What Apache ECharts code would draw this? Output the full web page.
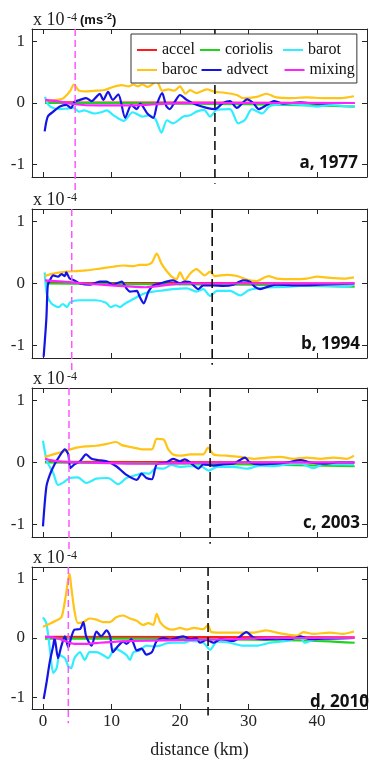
<!DOCTYPE html>
<html><head><meta charset="utf-8">
<script src="https://cdn.jsdelivr.net/npm/echarts@6/dist/echarts.min.js"></script>
<style>html,body{margin:0;padding:0;background:#fff}#c{width:369px;height:760px}</style>
</head><body><div id="c"></div>
<script>
// ---------- DATA (values in units of 1e-4 m s^-2, distance in km) ----------
const seriesNames = ['accel','coriolis','barot','baroc','advect','mixing'];
const panelLabels = ['a, 1977','b, 1994','c, 2003','d, 2010'];
const xTicks = [0,10,20,30,40];
const yTicks = [-1,0,1];
const mixingFront = [4.7,4.2,3.8,3.7];      // magenta dashed line position (km)
const boundaryLine = [25.1,24.7,24.4,24.1]; // black dashed line position (km)

// panel a, 1977
const accelA = [[0.3,0.02],[5,0.01],[45.5,0]];
const coriolisA = [[0.3,0],[10,0],[20,-0.01],[30,-0.02],[40,-0.04],[45.5,-0.06]];
const barotA = [[0.3,0.1],[0.8,-0.03],[1.5,-0.08],[2.5,-0.1],[3.5,-0.09],[4.4,-0.08],[5.3,-0.14],[6,-0.12],[7.5,-0.17],[8.5,-0.15],[9.3,-0.12],[10.3,-0.2],[11.8,-0.29],[13.1,-0.15],[14.5,-0.22],[15.4,-0.2],[16.4,-0.26],[17.3,-0.48],[18.1,-0.28],[19,-0.33],[20.5,-0.22],[21.5,-0.2],[22.4,-0.14],[23.5,-0.11],[24.4,-0.22],[25.4,-0.11],[27.3,-0.1],[28.5,-0.33],[29.5,-0.27],[30.5,-0.1],[32,-0.17],[33.1,-0.05],[36.1,-0.02],[38.5,-0.04],[40,-0.06],[41.9,-0.03],[44,-0.05],[45.5,-0.05]];
const barocA = [[0.3,0.05],[1,0.04],[2,0.05],[3,0.08],[4,0.2],[4.5,0.3],[5.3,0.2],[6.5,0.19],[7.8,0.2],[9,0.21],[10.2,0.26],[11.5,0.29],[12.5,0.27],[13.2,0.3],[13.8,0.27],[14.5,0.3],[15.3,0.26],[16.6,0.35],[17.4,0.2],[18.3,0.22],[19.2,0.2],[20,0.27],[20.8,0.15],[21.5,0.21],[22.4,0.16],[23.9,0.22],[25.1,0.18],[26.3,0.17],[28.3,0.13],[29.2,0.08],[31.2,0.1],[32.6,0.15],[34.1,0.09],[36.1,0.08],[38.5,0.09],[41,0.08],[43.5,0.08],[45.4,0.11]];
const advectA = [[0.25,-0.46],[0.7,-0.22],[1.5,-0.14],[2.4,-0.06],[3.4,-0.03],[4.1,-0.08],[4.6,0.02],[5.4,0.05],[6.3,0.08],[7.1,0.03],[7.8,0.1],[8.3,0.15],[8.8,0.05],[9.5,0.18],[10.2,0.05],[11,0.14],[12,-0.24],[12.9,-0.03],[13.7,-0.1],[14.2,-0.01],[15.3,-0.18],[16.1,-0.24],[16.7,0],[17.4,0.16],[18,-0.05],[18.5,-0.1],[19.3,0.03],[20,0.13],[21,0.05],[22.4,-0.03],[23.9,-0.08],[25.1,-0.1],[26.3,0],[27.3,0.03],[28.3,-0.08],[29.8,0.06],[30.7,0],[31.5,-0.1],[32.7,-0.03],[33.7,0.03],[35.1,-0.01],[37.6,0.01],[40,-0.01],[42.4,0],[45.4,0]];
const mixingA = [[0.3,0.05],[2,0.03],[4.6,-0.02],[8,-0.04],[12,-0.04],[15,-0.03],[18,-0.01],[22,0],[45.5,0]];

// panel b, 1994
const accelB = [[0.3,0.02],[5,0.01],[45.5,0]];
const coriolisB = [[0.3,0],[15,-0.01],[30,-0.02],[45.5,-0.05]];
const barotB = [[0.25,0.18],[0.6,-0.19],[1.3,-0.33],[2.3,-0.38],[2.9,-0.33],[3.5,-0.38],[4,-0.3],[5.3,-0.27],[7.7,-0.27],[9.2,-0.31],[9.9,-0.38],[10.6,-0.35],[11.2,-0.38],[11.9,-0.33],[13.2,-0.25],[14.2,-0.19],[15.1,-0.15],[16.1,-0.13],[17.6,-0.11],[19,-0.09],[21,-0.08],[22.4,-0.13],[23.4,-0.09],[24.4,-0.2],[25.4,-0.12],[27.3,-0.12],[28.8,-0.19],[30,-0.11],[31.2,-0.08],[33.6,-0.06],[36,-0.05],[39,-0.03],[42,-0.04],[44.4,-0.05],[45.4,-0.02]];
const barocB = [[0.25,0.12],[1.5,0.16],[3.4,0.19],[4.9,0.2],[6.3,0.21],[8.3,0.24],[10.2,0.27],[11.7,0.29],[13.2,0.28],[14.1,0.3],[15.1,0.3],[15.9,0.34],[16.6,0.48],[17.3,0.32],[18,0.21],[18.8,0.11],[19.5,0.07],[20,0.18],[20.7,0.05],[21.5,0.16],[22.4,0.23],[23.6,0.13],[24.4,0.19],[25.1,0.12],[26.8,0.14],[28.3,0.12],[30.2,0.05],[31.2,0.04],[32.9,0.12],[34.1,0.08],[36.6,0.07],[38.5,0.08],[40,0.11],[41.9,0.09],[43.9,0.08],[45.4,0.1]];
const advectB = [[0.1,-1.18],[0.5,-0.56],[0.7,-0.03],[1,0.05],[1.5,0.13],[2.2,0.11],[2.7,0.15],[3.2,0.12],[3.4,0.18],[3.9,0.08],[4.6,0.05],[5.4,0],[6.8,-0.02],[8.3,0.03],[9.3,0.03],[10.2,-0.02],[11.5,0.03],[12.2,-0.08],[12.7,-0.13],[13.7,-0.12],[14.1,-0.21],[14.7,-0.32],[15.4,-0.13],[16.1,-0.03],[17.1,0],[18,0.03],[19,0.05],[20,0],[20.7,0.03],[21.5,0.02],[22.7,-0.09],[23.4,-0.03],[24.9,-0.03],[26.3,-0.04],[27.8,-0.02],[29.2,0.05],[30.2,0.03],[31,-0.06],[31.7,-0.09],[32.9,-0.05],[34.1,-0.02],[37.6,-0.03],[40.5,-0.02],[45.4,0]];
const mixingB = [[0.3,0.05],[3,0.03],[6,0],[10,-0.03],[15,-0.06],[17,-0.04],[19,-0.01],[21,0],[45.5,0]];

// panel c, 2003
const accelC = [[0.3,0.01],[45.5,0]];
const coriolisC = [[0.3,0],[15,-0.01],[30,-0.03],[45.5,-0.06]];
const barotC = [[0,0.35],[0.6,0.02],[1.5,-0.17],[2.2,-0.36],[3,-0.32],[3.9,-0.25],[5.1,-0.24],[6.3,-0.33],[7.8,-0.26],[9.5,-0.25],[11,-0.35],[12.2,-0.25],[13.7,-0.2],[14.6,-0.17],[15.5,-0.18],[16.5,-0.09],[17.6,-0.1],[18.7,-0.04],[20,-0.07],[21.2,-0.06],[23,-0.06],[24.2,-0.13],[25.4,-0.07],[27.8,-0.07],[29.8,-0.1],[31.7,-0.05],[33.7,-0.06],[35.6,-0.03],[37.6,-0.02],[39.5,-0.09],[41,-0.02],[42.9,-0.03],[45.4,-0.03]];
const barocC = [[0.25,0.09],[1.5,0.13],[3.4,0.19],[4.9,0.24],[6.3,0.26],[7.8,0.27],[9.3,0.3],[10.7,0.33],[11.5,0.28],[13.2,0.24],[14.6,0.21],[15.9,0.21],[16.6,0.38],[17.6,0.37],[18.3,0.21],[19,0.13],[20,0.11],[21.5,0.13],[23.4,0.13],[24.1,0.24],[24.9,0.13],[26.8,0.11],[28.8,0.09],[30.7,0.06],[32.7,0.08],[34.6,0.09],[36.6,0.06],[38.5,0.08],[40.5,0.06],[42.4,0.08],[44.4,0.06],[45.4,0.11]];
const advectC = [[0,-1.03],[0.5,-0.39],[1,-0.2],[1.7,-0.03],[2.4,0.1],[3.2,0.21],[3.7,0.13],[4,-0.09],[4.6,-0.03],[5.4,0.02],[6.3,0.13],[7.1,0.06],[8,0.04],[9.3,0.02],[10.7,-0.06],[12.2,-0.2],[13.7,-0.28],[14.4,-0.18],[15.1,-0.25],[15.9,-0.27],[16.6,-0.03],[18,0],[19,0.06],[20,0.02],[20.7,0.05],[21.7,-0.02],[22.7,-0.1],[23.4,-0.03],[24.9,-0.05],[26.3,-0.03],[27.8,-0.02],[29.5,0.08],[30.2,0],[31.7,-0.03],[33.7,-0.02],[35.6,0],[37.6,0.04],[39,0],[41,-0.02],[42.9,0],[45.4,0]];
const mixingC = [[0.3,0.06],[1.5,0.03],[3,0.01],[6,0],[10,-0.01],[15,-0.02],[20,-0.01],[25,0],[45.5,0]];

// panel d, 2010
const accelD = [[0.3,0.02],[45.5,0.01]];
const coriolisD = [[0.3,-0.01],[15,-0.01],[30,-0.03],[38,-0.04],[45.5,-0.08]];
const barotD = [[0,0.35],[0.5,0.25],[1,-0.18],[1.5,-0.59],[2,-0.51],[2.4,-0.29],[3.2,-0.34],[3.7,-0.48],[4.1,-0.51],[4.6,-0.34],[5.4,-0.24],[6.1,-0.37],[6.8,-0.24],[7.8,-0.24],[8.8,-0.29],[9.5,-0.34],[10.5,-0.18],[11.2,-0.21],[12.2,-0.29],[12.7,-0.37],[13.2,-0.24],[14.1,-0.21],[15.1,-0.13],[16.1,-0.14],[17.1,-0.13],[18,-0.09],[19,-0.08],[20.5,-0.08],[21.5,-0.05],[23.4,-0.08],[24.4,-0.2],[25.4,-0.06],[27.3,-0.08],[29.2,-0.13],[31.2,-0.13],[33.1,-0.08],[36,-0.04],[37.5,0.03],[38.2,-0.08],[39.5,-0.03],[41,-0.02],[42.9,-0.01],[45.4,0]];
const barocD = [[0,0.19],[1,0.24],[2,0.3],[2.7,0.35],[3.2,0.62],[3.7,1.0],[3.9,1.08],[4.1,0.89],[4.6,0.46],[5.1,0.25],[5.9,0.27],[6.8,0.33],[7.8,0.31],[8.8,0.27],[9.8,0.27],[10.7,0.35],[11.7,0.38],[12.7,0.33],[13.7,0.29],[14.6,0.22],[15.4,0.25],[16.1,0.22],[16.6,0.41],[17.1,0.27],[18,0.17],[19,0.14],[20,0.17],[21,0.14],[22,0.17],[23.4,0.15],[24.1,0.22],[24.6,0.1],[26.8,0.09],[28.8,0.09],[30.7,0.09],[32.6,0.13],[34.1,0.09],[35.6,0.06],[37.1,0.04],[38,0.1],[39.5,0.07],[41.9,0.09],[43.8,0.07],[45.4,0.11]];
const advectD = [[0.1,-1.03],[0.5,-0.77],[1,-0.4],[1.5,-0.13],[1.7,0],[2.2,-0.34],[2.7,-0.13],[3.2,0.03],[3.7,-0.16],[4.1,0],[4.6,0.14],[5.4,0.15],[5.9,0.27],[6.3,0.03],[7.1,-0.13],[7.8,0.11],[8.5,0.03],[9.3,0.13],[9.8,0.03],[10.2,-0.24],[11,-0.13],[11.7,-0.06],[12.2,-0.1],[12.9,-0.02],[13.7,-0.21],[14.4,-0.18],[15.1,-0.28],[15.9,-0.24],[16.6,-0.05],[17.6,0],[18.5,-0.03],[19.5,0],[20.5,0.03],[21.5,-0.02],[22.4,0],[22.9,-0.08],[23.9,-0.03],[24.9,-0.08],[25.9,-0.02],[27.8,-0.05],[29.7,0.1],[30.7,0.01],[32.2,-0.02],[34.1,-0.01],[36.1,-0.02],[37.6,0.03],[39,-0.02],[41,-0.01],[45.4,0]];
const mixingD = [[0.3,0.02],[2,0],[3.2,-0.05],[4.6,-0.1],[6.3,-0.1],[8.3,-0.08],[10.7,-0.06],[13.2,-0.05],[18,-0.04],[22.9,-0.03],[27.8,-0.02],[32.7,0],[45.5,0]];

const panelData = [
  {accel:accelA, coriolis:coriolisA, barot:barotA, baroc:barocA, advect:advectA, mixing:mixingA},
  {accel:accelB, coriolis:coriolisB, barot:barotB, baroc:barocB, advect:advectB, mixing:mixingB},
  {accel:accelC, coriolis:coriolisC, barot:barotC, baroc:barocC, advect:advectC, mixing:mixingC},
  {accel:accelD, coriolis:coriolisD, barot:barotD, baroc:barocD, advect:advectD, mixing:mixingD}
];

// ---------- STYLE / LAYOUT ----------
const colors = {accel:'#ff1a1a', coriolis:'#1ed21e', barot:'#30eeff', baroc:'#ffc414', advect:'#1414e6', mixing:'#ff22ff'};
const gridTops = [29,209,388,567];
const gridH = [148,149,149,149];
const labelRight = [358,360,360,369];
const serif = '"Liberation Serif", "Times New Roman", serif';
const axisColor = '#262626';

const option = {
  animation:false, backgroundColor:'#fff',
  grid:[], xAxis:[], yAxis:[], series:[], graphic:[],
  legend:{
    show:true, left:131, top:34, width:232, orient:'horizontal',
    backgroundColor:'#fff', borderColor:'#333', borderWidth:1, borderRadius:0,
    padding:[8,2,5,6], itemGap:4, itemWidth:20, itemHeight:2, icon:'rect',
    textStyle:{fontFamily:serif, fontSize:16, color:'#111', lineHeight:14},
    data: seriesNames.map((n,i)=>({name:n, textStyle:{width:[34,54,42][i%3]}})),
    z:20
  }
};

panelData.forEach((pd,i)=>{
  option.grid.push({left:32, width:335, top:gridTops[i], height:gridH[i]});
  const common = {gridIndex:i, type:'value', min:-1.6, max:47.3, splitLine:{show:false},
    axisLine:{show:true, onZero:false, lineStyle:{color:axisColor, width:1}},
    axisTick:{show:true, inside:true, length:5, customValues:xTicks, lineStyle:{color:axisColor}}};
  option.xAxis.push(Object.assign({}, common, {position:'bottom',
    axisLabel:{show:i===3, customValues:xTicks, margin:4, fontFamily:serif, fontSize:17, color:'#222'},
    name: i===3 ? 'distance (km)' : '', nameLocation:'middle', nameGap:32,
    nameTextStyle:{fontFamily:serif, fontSize:18, color:'#222'}}));
  option.xAxis.push(Object.assign({}, common, {position:'top', axisLabel:{show:false}}));
  const ycommon = {gridIndex:i, type:'value', min:-1.2, max:1.2, splitLine:{show:false},
    axisLine:{show:true, onZero:false, lineStyle:{color:axisColor, width:1}},
    axisTick:{show:true, inside:true, length:5, customValues:yTicks, lineStyle:{color:axisColor}}};
  option.yAxis.push(Object.assign({}, ycommon, {position:'left',
    axisLabel:{show:true, customValues:yTicks, margin:7, fontFamily:serif, fontSize:17, color:'#222'}}));
  option.yAxis.push(Object.assign({}, ycommon, {position:'right', axisLabel:{show:false}}));

  seriesNames.forEach((n,k)=>{
    option.series.push({type:'line', name:n, xAxisIndex:2*i, yAxisIndex:2*i, data:pd[n],
      symbol:'none', smooth:0.25, lineStyle:{color:colors[n], width:2.2}, itemStyle:{color:colors[n]},
      z:2+k*0.1, silent:true});
  });
  option.series.push({type:'line', name:'front'+i, xAxisIndex:2*i, yAxisIndex:2*i, clip:false,
    data:[[mixingFront[i],1.2],[mixingFront[i],-1.44]], symbol:'none', silent:true,
    lineStyle:{color:'#ff55ff', width:1.5, type:[7,4]}, z:3});
  option.series.push({type:'line', name:'bound'+i, xAxisIndex:2*i, yAxisIndex:2*i, clip:false,
    data:[[boundaryLine[i],1.2],[boundaryLine[i],-1.31]], symbol:'none', silent:true,
    lineStyle:{color:'#111', width:1.6, type:[9,5]}, z:3});

  option.graphic.push({type:'text', x:33, y:gridTops[i], z:30,
    style:{text:'x 10', font:'18px '+serif, fill:'#222', textAlign:'left', textVerticalAlign:'bottom', align:'left', verticalAlign:'bottom'}});
  option.graphic.push({type:'text', x:67, y:gridTops[i]-17, z:30,
    style:{text:'-4', font:'12px '+serif, fill:'#222', textAlign:'left', textVerticalAlign:'top', align:'left', verticalAlign:'top'}});
  option.graphic.push({type:'text', x:labelRight[i], y:gridTops[i]+gridH[i]-14, z:30,
    style:{text:panelLabels[i], font:'bold 17px "Open Sans", "Liberation Sans", sans-serif', fill:'#111', textAlign:'right', textVerticalAlign:'middle', align:'right', verticalAlign:'middle'}});
});
option.graphic.push({type:'text', x:80, y:20, z:30, style:{text:'(ms', font:'bold 13px "Liberation Sans", Arial, sans-serif', fill:'#111', textAlign:'left', textVerticalAlign:'middle', align:'left', verticalAlign:'middle'}});
option.graphic.push({type:'text', x:104, y:12, z:30, style:{text:'-2', font:'bold 9px "Liberation Sans", Arial, sans-serif', fill:'#111', textAlign:'left', textVerticalAlign:'top', align:'left', verticalAlign:'top'}});
option.graphic.push({type:'text', x:112, y:20, z:30, style:{text:')', font:'bold 13px "Liberation Sans", Arial, sans-serif', fill:'#111', textAlign:'left', textVerticalAlign:'middle', align:'left', verticalAlign:'middle'}});

const chart = echarts.init(document.getElementById('c'), null, {renderer:'canvas'});
chart.setOption(option);
</script></body></html>
